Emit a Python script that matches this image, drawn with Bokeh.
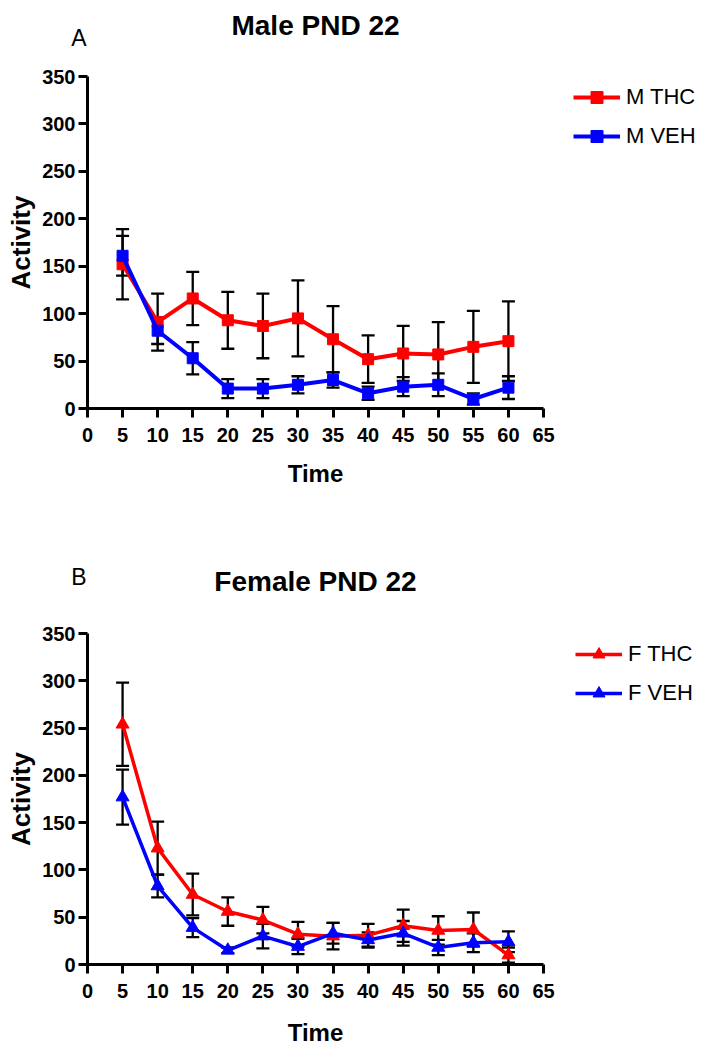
from bokeh.plotting import figure
from bokeh.models import (Range1d, FixedTicker, Whisker, TeeHead, ColumnDataSource,
                          Legend, LegendItem, Label)
from bokeh.layouts import column
from bokeh.embed import file_html
from bokeh.resources import INLINE

# ---------------- data ----------------
time = [5, 10, 15, 20, 25, 30, 35, 40, 45, 50, 55, 60]

m_thc_mean = [152, 91, 116, 93, 87, 95, 73, 52, 58, 57, 65, 71]
m_thc_sem = [37, 30, 28, 30, 34, 40, 35, 25, 29, 34, 38, 42]
m_veh_mean = [161, 82, 53, 21, 21, 25, 30, 16, 23, 25, 10, 22]
m_veh_sem = [21, 14, 17, 10, 10, 9, 8, 7, 10, 12, 6, 12]

f_thc_mean = [254, 123, 74, 56, 47, 32, 30, 31, 41, 36, 37, 10]
f_thc_sem = [44, 28, 22, 15, 14, 13, 14, 12, 17, 15, 18, 8]
f_veh_mean = [177, 83, 39, 15, 30, 19, 33, 26, 33, 18, 23, 24]
f_veh_sem = [29, 12, 10, 3, 13, 8, 11, 8, 13, 8, 10, 11]

x_ticks = [0, 5, 10, 15, 20, 25, 30, 35, 40, 45, 50, 55, 60, 65]
y_ticks = [0, 50, 100, 150, 200, 250, 300, 350]

# ---------------- layout constants ----------------
FONT = "Liberation Sans"
FIG_W = 705
BORDER_L = 87
FRAME_W = FIG_W - BORDER_L
X_AXIS_END = 65
PX_PER_X = 456 / 65.0
X_END = FRAME_W / PX_PER_X
RED = "#FF0000"
BLUE = "#0000FF"


def strip_fig(height, letter=None, letter_y=None):
    """A text-only strip; frame spans page x 87..705 (data x = page x, data y = px from top)."""
    f = figure(width=FIG_W, height=height, x_range=Range1d(BORDER_L, FIG_W),
               y_range=Range1d(height, 0), x_axis_type=None,
               y_axis_type="linear" if letter else None,
               output_backend="svg", toolbar_location=None,
               min_border_left=BORDER_L, min_border_right=0,
               min_border_top=0, min_border_bottom=0)
    f.grid.visible = False
    f.outline_line_color = None
    if letter:
        ax = f.yaxis[0]
        ax.ticker = FixedTicker(ticks=[letter_y])
        ax.major_label_overrides = {letter_y: letter}
        ax.axis_line_color = None
        ax.major_tick_line_color = None
        ax.minor_tick_line_color = None
        ax.major_tick_out = 0
        ax.major_tick_in = 0
        ax.major_label_standoff = 1
        ax.major_label_text_font = FONT
        ax.major_label_text_font_style = "normal"
        ax.major_label_text_font_size = "23px"
        ax.major_label_text_color = "black"
    return f


def add_text(f, x, y, text, size, style):
    f.add_layout(Label(x=x, y=y, text=text, text_font=FONT, text_font_style=style,
                       text_font_size=size, text_color="black",
                       text_align="center", text_baseline="middle"))


def make_panel(marker, series, border_top, frame_h, border_bottom, legend_loc, lw):
    p = figure(width=FIG_W, height=border_top + frame_h + border_bottom,
               x_range=Range1d(0, X_END), y_range=Range1d(0, 350),
               output_backend="svg", toolbar_location=None,
               min_border_left=BORDER_L, min_border_right=0,
               min_border_top=border_top, min_border_bottom=border_bottom)
    p.grid.visible = False
    p.outline_line_color = None
    p.background_fill_color = "white"
    p.border_fill_color = "white"

    for ax in (p.xaxis[0], p.yaxis[0]):
        ax.axis_line_width = 3
        ax.axis_line_color = "black"
        ax.major_tick_line_width = 3
        ax.major_tick_line_color = "black"
        ax.major_tick_out = 9
        ax.major_tick_in = 0
        ax.minor_tick_line_color = None
        ax.major_label_text_font = FONT
        ax.major_label_text_font_style = "bold"
        ax.major_label_text_font_size = "20px"
        ax.major_label_text_color = "black"
    p.xaxis.bounds = (0, X_AXIS_END)
    p.xaxis.ticker = FixedTicker(ticks=x_ticks)
    p.yaxis.ticker = FixedTicker(ticks=y_ticks)
    p.xaxis.major_label_standoff = 10
    p.yaxis.major_label_standoff = 3
    p.yaxis.axis_label = "Activity"
    p.yaxis.axis_label_text_font = FONT
    p.yaxis.axis_label_text_font_style = "bold"
    p.yaxis.axis_label_text_color = "black"
    p.yaxis.axis_label_text_font_size = "26px"
    p.yaxis.axis_label_standoff = 3

    items = []
    for name, mean, sem, color in series:
        src = ColumnDataSource(dict(x=time, y=mean,
                                    upper=[m + s for m, s in zip(mean, sem)],
                                    lower=[m - s for m, s in zip(mean, sem)]))
        w = Whisker(source=src, base="x", upper="upper", lower="lower",
                    line_color="black", line_width=2.3, level="underlay",
                    upper_head=TeeHead(size=13, line_width=2.3, line_color="black"),
                    lower_head=TeeHead(size=13, line_width=2.3, line_color="black"))
        p.add_layout(w)
        lr = p.line("x", "y", source=src, line_color=color, line_width=lw)
        sr = p.scatter("x", "y", source=src, marker=marker,
                       size=11 if marker == "square" else 13,
                       fill_color=color, line_color=color)
        items.append(LegendItem(label=name, renderers=[lr, sr]))

    leg = Legend(items=items, location=legend_loc, glyph_width=47, glyph_height=30,
                 label_height=30, spacing=9, padding=0, margin=0, label_standoff=6,
                 label_text_font=FONT, label_text_font_size="22px",
                 label_text_color="black",
                 border_line_alpha=0, background_fill_alpha=0)
    p.add_layout(leg)
    return p


# top block (page y 0..525)
h1 = strip_fig(62, "A", 37)
add_text(h1, 315, 25, "Male PND 22", "28px", "bold")
p1 = make_panel("square",
                [("M THC", m_thc_mean, m_thc_sem, RED), ("M VEH", m_veh_mean, m_veh_sem, BLUE)],
                border_top=14, frame_h=332, border_bottom=45, legend_loc=(486, 257), lw=4)
f1 = strip_fig(72)
add_text(f1, 315, 20, "Time", "24px", "bold")

# bottom block (page y 525..1050)
h2 = strip_fig(94, "B", 51.5)
add_text(h2, 315, 56, "Female PND 22", "28px", "bold")
p2 = make_panel("triangle",
                [("F THC", f_thc_mean, f_thc_sem, RED), ("F VEH", f_veh_mean, f_veh_sem, BLUE)],
                border_top=14, frame_h=331, border_bottom=45, legend_loc=(488, 256), lw=3.5)
f2 = strip_fig(41)
add_text(f2, 315, 23, "Time", "24px", "bold")

layout = column(h1, p1, f1, h2, p2, f2, spacing=0)
open("out.html", "w").write(file_html(layout, INLINE))
